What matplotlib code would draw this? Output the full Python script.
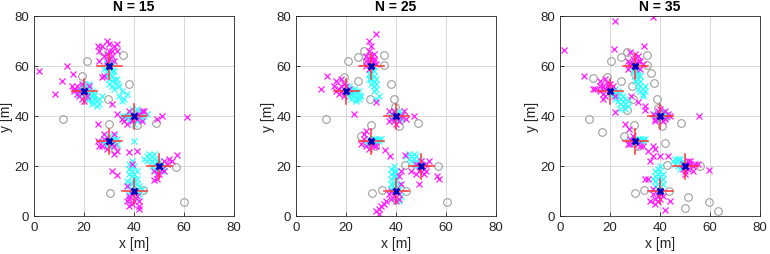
import numpy as np
import matplotlib
matplotlib.use("Agg")
import matplotlib.pyplot as plt

plt.rcParams['font.family'] = ['Liberation Sans', 'DejaVu Sans']

# true target positions [m]
targets = [(20, 50), (30, 60), (40, 40), (30, 30), (40, 10), (50, 20)]
err_half = 5  # half length of red error cross

# ---------- N = 15 ----------
anchors_15 = [(21, 62), (19, 56), (27, 66), (35.5, 64.5), (38, 53), (29.5, 47),
              (11.6, 38.8), (30, 36.8), (41, 36.4), (48.8, 37.2), (56.8, 19.7),
              (30.4, 9.2), (43.6, 10.4), (60, 5.6), (32.5, 27)]
cyan_15 = [
    (18, 51), (19, 52), (20, 51), (21, 52), (22, 51), (21, 49), (22, 49), (23, 48), (24, 47),
    (23, 46), (25, 46), (26, 45), (24, 49), (19, 49), (20, 48), (22, 47), (25, 44), (21, 50),
    (23, 50), (17, 50), (18, 49), (20, 53), (22, 53), (24, 48), (26, 47), (27, 48), (21, 47),
    (23, 45),
    (29, 61), (31, 61), (30, 59), (31, 58), (29, 58), (30, 57), (31, 56), (32, 55), (31, 54),
    (30, 53), (31, 52), (32, 51), (30, 55), (29, 56), (32, 58), (31, 62), (33, 53), (34, 52),
    (35, 50), (34, 48), (36, 47), (37, 49), (35, 46), (33, 55), (28, 59), (29, 63),
    (37, 40), (38, 41), (39, 39), (41, 41), (42, 40), (43, 39), (44, 40), (38, 38), (40, 42),
    (41, 38), (36, 40), (39, 41), (42, 42), (45, 41), (37, 39), (43, 41), (40, 37), (39, 43),
    (35, 40), (41, 43),
    (28, 31), (29, 29), (31, 31), (32, 30), (30, 32), (31, 28), (29, 31), (33, 31), (28, 29),
    (32, 32), (30, 28), (31, 30), (27, 30), (33, 29),
    (39, 11), (40, 12), (41, 13), (39, 14), (40, 15), (39, 16), (38, 17), (39, 18), (38, 19),
    (40, 20), (38, 21), (39, 13), (41, 11), (42, 12), (41, 15), (40, 17), (37, 14), (38, 12),
    (42, 9), (41, 7), (38, 9), (40, 30), (39, 22), (43, 11), (41, 18),
    (48, 21), (47, 22), (46, 23), (47, 24), (46, 25), (48, 23), (49, 22), (45, 22), (44, 23),
    (48, 25), (51, 21), (52, 20), (50, 19), (51, 18), (49, 18), (47, 20), (48, 19), (53, 21),
    (45, 24), (50, 22)]
magenta_15 = [
    (2, 58), (8.5, 49), (11, 54), (13, 60), (15.5, 57), (25.5, 37), (16, 51), (17, 52), (18, 50),
    (17, 49), (19, 53), (16, 50), (18, 48), (21, 48), (22, 52), (15, 52), (19, 47), (20, 46),
    (25.5, 68), (26, 66), (27, 68), (29, 70), (30, 69), (32, 68), (33, 69), (31, 66), (28, 56),
    (27, 55.5), (31, 45), (30, 63), (29, 62), (31, 64), (28, 64), (32, 62), (30, 66), (26, 62),
    (33, 66), (29, 65),
    (33, 41), (36, 38), (43, 42), (44, 42), (49, 39), (51, 40), (61, 39.5), (37, 37), (42, 41),
    (38, 42), (41, 39), (39, 38), (35, 39), (43, 38),
    (27, 28), (28, 33), (32, 33), (33, 26), (26, 28), (32, 25), (31, 18), (33, 16.5), (28, 31),
    (31, 29), (29, 27), (32, 28), (25.5, 30),
    (38, 7), (39, 5), (42, 4), (42, 3), (41, 8), (37, 12), (41, 26), (38, 25.5), (39, 21),
    (38, 8), (40, 6), (39, 9), (37, 6), (42, 6), (38, 4),
    (52, 22), (54, 23), (57, 24.5), (49, 17), (49, 15), (48, 14.5), (48, 18), (53, 21), (51, 19),
    (55, 22), (50, 17), (52, 18)]

# ---------- N = 25 ----------
anchors_25 = [(20.9, 61.9), (24.9, 63.5), (27.3, 65.9), (35.3, 64.5), (35.3, 60.5),
              (19.3, 55.7), (24.7, 53.9), (38, 53), (39.3, 46.8), (29.6, 46.8),
              (39.6, 43.5), (43.3, 40.1), (41.2, 36.1), (48.9, 37.1), (11.9, 38.8),
              (30, 36.4), (26, 32.1), (31.6, 28.1), (43.6, 20.5), (56.7, 19.9),
              (60.3, 5.5), (30.3, 9.1), (34.3, 10.5), (44, 10.1), (28.5, 62)]
cyan_25 = [
    (21, 50), (22, 49), (23, 48), (24, 47), (23, 49), (22, 51), (24, 50), (25, 48), (21, 48),
    (22, 47), (24, 46), (25, 47), (20, 49), (19, 51), (23, 51), (26, 48), (21, 52), (25, 50),
    (30, 59), (31, 58), (30, 57), (31, 56), (30, 55), (31, 54), (30, 53), (31, 52), (32, 51),
    (31, 50), (29, 57), (32, 55), (32, 53), (29, 55), (31, 60), (30, 61), (33, 48), (32, 47),
    (39, 41), (41, 41), (40, 39), (41, 39), (38, 40), (42, 40), (39, 39), (41, 42), (38, 41),
    (42, 39),
    (29, 31), (31, 31), (32, 30), (31, 29), (33, 31), (28, 29), (30, 31), (32, 31), (29, 29),
    (33, 30), (34, 31),
    (39, 11), (40, 12), (39, 13), (40, 14), (38, 15), (39, 16), (38, 17), (39, 18), (38, 19),
    (39, 20), (40, 16), (41, 13), (41, 11), (38, 13), (40, 18), (38, 11), (42, 8), (41, 6),
    (39, 7),
    (49, 21), (48, 22), (47, 23), (46, 24), (45, 25), (47, 21), (46, 22), (48, 24), (49, 23),
    (45, 23), (51, 21), (50, 22), (48, 20), (44, 24), (47, 25)]
magenta_25 = [
    (10, 51), (12.5, 56), (15, 52), (16, 54), (17, 51), (18, 52), (17, 49), (19, 53), (18, 50),
    (20, 52), (19, 48), (21, 51), (23, 41), (16, 50), (18, 55),
    (32, 73), (29, 70), (30, 68), (28, 64), (29, 62), (30, 63), (31, 65), (29, 66), (31, 62),
    (28, 60), (32, 61), (30, 64), (29, 59), (32, 45.5), (31, 63), (28, 62),
    (37, 42), (38, 39), (39, 38), (41, 38), (43, 42), (42, 40), (47, 40), (44, 39), (39, 42),
    (37, 38), (40, 37),
    (28, 34), (26, 29), (27, 31), (28, 28), (29, 27), (31, 28), (27, 33), (32, 28), (35.5, 26.5),
    (37.5, 24), (30, 29),
    (39, 8), (38, 7), (40, 6), (37, 9), (41, 9), (42, 13), (35, 5), (33, 3), (32, 2), (34, 4),
    (36, 6), (33, 1), (41, 16), (42, 18), (38, 10), (41, 7),
    (51, 19), (52, 21), (53, 22), (49, 18), (48, 17), (46, 18), (49, 13), (50, 22), (51, 17),
    (57, 15), (56.5, 16), (43.5, 24.5), (52, 18), (48, 21)]

# ---------- N = 35 ----------
anchors_35 = [(20.4, 61.9), (24.4, 63.5), (26.9, 65.5), (34.9, 64.5), (34.7, 60.5),
              (18.9, 55.7), (13.1, 55.2), (24.3, 53.9), (28.9, 51.9), (36.5, 57.1),
              (37.6, 53.1), (38.7, 46.8), (29.3, 46.8), (26.7, 42.4), (39.3, 43.2),
              (42.7, 40.1), (40.7, 36.1), (48.3, 37.1), (11.6, 38.8), (16.8, 33.7),
              (29.7, 36.4), (25.6, 32.1), (31.3, 28.1), (42, 29.1), (42.9, 20.5),
              (51.6, 19.9), (56, 19.9), (59.6, 5.5), (51.3, 7.5), (49.9, 3.3),
              (63.2, 2.1), (29.9, 9.1), (33.6, 10.5), (43.5, 10.1), (30, 57)]
cyan_35 = [
    (21, 50), (22, 49), (23, 48), (24, 47), (25, 46), (26, 45), (27, 44), (22, 47), (23, 46),
    (24, 45), (25, 44), (26, 43), (21, 48), (23, 50), (24, 49), (25, 48), (22, 51), (20, 49),
    (26, 47), (27, 46), (24, 43),
    (30, 59), (31, 58), (31, 57), (30, 56), (31, 55), (32, 54), (31, 53), (32, 52), (33, 51),
    (32, 50), (33, 49), (33, 48), (30, 54), (32, 56), (34, 50), (31, 51), (34, 52), (29, 58),
    (30, 61),
    (39, 41), (41, 41), (40, 39), (38, 40), (42, 40), (39, 39), (41, 42), (38, 41), (42, 41),
    (29, 31), (31, 31), (32, 30), (31, 29), (33, 31), (28, 30), (32, 31), (30, 31), (33, 30),
    (34, 31), (29, 29),
    (39, 11), (40, 12), (39, 13), (40, 14), (39, 15), (40, 16), (39, 17), (38, 14), (41, 15),
    (41, 13), (38, 12), (38, 16), (40, 18), (39, 19), (41, 17), (38, 18), (40, 20), (37, 15),
    (48, 21), (47, 22), (46, 21), (47, 20), (48, 23), (49, 22), (46, 23), (45, 22), (49, 21),
    (51, 21), (48, 19), (47, 23)]
magenta_35 = [
    (9.5, 56), (13, 51), (14, 51), (16, 54), (17, 52), (16, 50), (18, 51), (17, 49), (19, 53),
    (18, 48), (19, 52), (21, 52), (18, 55), (17, 47), (16, 52), (22, 48), (20, 53),
    (22, 78), (37, 79.5), (1.5, 66.5), (21.5, 67), (33.5, 68), (28, 65.5), (27, 62), (28, 61),
    (29, 63), (31, 64), (30, 65), (32, 62), (28, 60), (33, 61), (29, 61), (32, 59), (27, 59),
    (31, 62), (28.5, 48), (31, 45.5), (22, 41.5), (34, 42.5), (34, 44),
    (37, 41), (38, 39), (41, 38), (42, 42), (43, 41), (39, 42), (38, 38), (42, 39), (55.5, 40),
    (40, 43), (44, 40),
    (27, 29), (28, 31), (26, 37), (27.5, 35), (28, 29), (32, 28), (33, 28), (35, 26), (37, 24),
    (37, 28), (38, 27), (40, 24), (43, 24), (36, 22), (29, 32), (31, 29),
    (39, 8), (38, 7), (37, 9), (40, 9), (38, 5), (41, 8), (36, 6), (34, 15), (35, 15), (44, 6),
    (42, 2.5), (40, 7), (37, 11), (39, 6),
    (51, 19), (52, 21), (50, 18), (49, 19), (53, 20), (52, 22), (54, 21), (55, 21), (59.5, 18.5),
    (51, 22), (49, 21), (50, 17), (53, 18)]

titles = ['N = 15', 'N = 25', 'N = 35']
panels = [(anchors_15, cyan_15, magenta_15),
          (anchors_25, cyan_25, magenta_25),
          (anchors_35, cyan_35, magenta_35)]
lefts = [34, 296, 560]

fig = plt.figure(figsize=(7.7, 2.55), dpi=100)
dark = (0.15, 0.15, 0.15)

for k, (anc, cy, mg) in enumerate(panels):
    ax = fig.add_axes([lefts[k] / 770, 38 / 255, 200 / 770, 200 / 255])
    a = np.array(anc)
    c = np.array(cy)
    m = np.array(mg)
    t = np.array(targets)
    ax.plot(a[:, 0], a[:, 1], 'o', mfc='none', mec=(0.62, 0.62, 0.62), ms=5.5, mew=0.8)
    ax.plot(c[:, 0], c[:, 1], 'x', color=(0.2, 1, 1), ms=4.3, mew=0.9)
    ax.plot(m[:, 0], m[:, 1], 'x', color=(1, 0.1, 1), ms=4.0, mew=0.9)
    for tx, ty in targets:
        ax.plot([tx - err_half, tx + err_half], [ty, ty], color=(1, 0.2, 0.2), lw=1.1)
        ax.plot([tx, tx], [ty - err_half, ty + err_half], color=(1, 0.2, 0.2), lw=1.1)
    ax.plot(t[:, 0], t[:, 1], 'x', color=(0, 0, 0.75), ms=4.3, mew=2.0)

    ax.set_xlim(0, 80)
    ax.set_ylim(0, 80)
    ax.set_xticks([0, 20, 40, 60, 80])
    ax.set_yticks([0, 20, 40, 60, 80])
    ax.grid(True, color=(0.85, 0.85, 0.85), lw=0.7)
    ax.set_axisbelow(True)
    ax.tick_params(direction='in', length=3, labelsize=9.5, colors=dark, width=0.6)
    for s in ax.spines.values():
        s.set_color(dark)
        s.set_linewidth(0.6)
    ax.set_xlabel('x [m]', fontsize=10, color=dark, labelpad=2)
    ax.set_ylabel('y [m]', fontsize=10, color=dark, labelpad=1)
    ax.set_title(titles[k], fontsize=10, fontweight='bold', pad=4)

fig.savefig('out.png', dpi=100)
